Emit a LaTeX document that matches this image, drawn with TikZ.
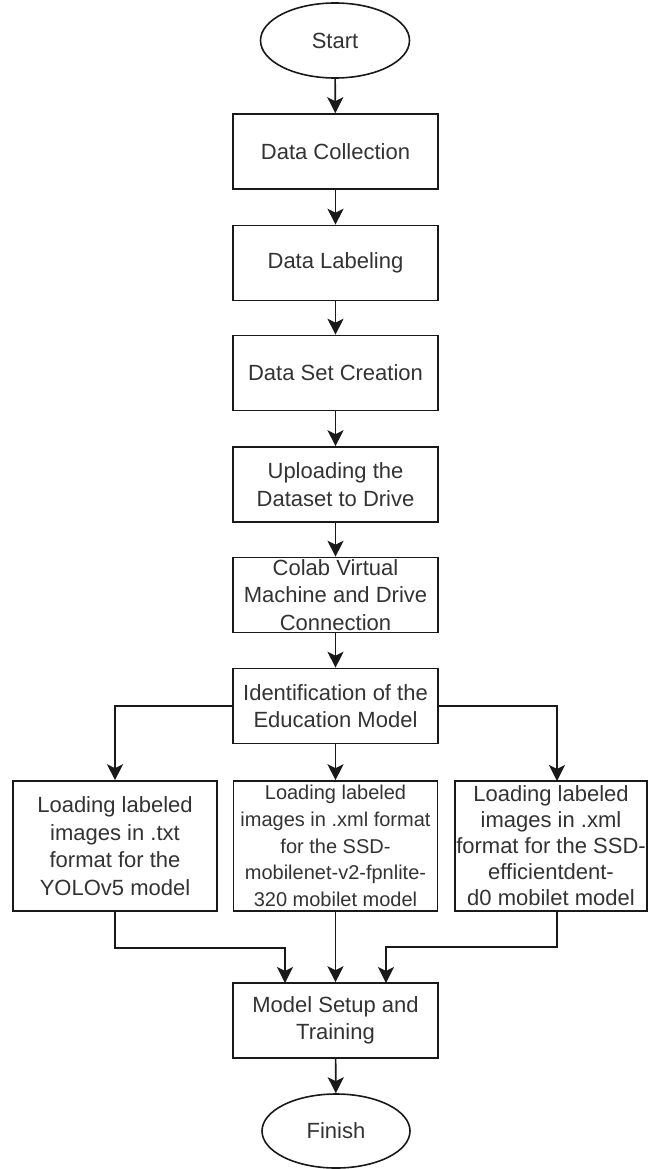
\documentclass[tikz,border=0pt]{standalone}
\usepackage{fontspec}
\setmainfont{Liberation Sans}
\usetikzlibrary{arrows.meta,shapes.geometric}
\begin{document}
\begin{tikzpicture}[x=1pt,y=-1pt,
  box/.style={draw=black!90,line width=1.6pt,rectangle,inner sep=0pt,fill=white},
  oval/.style={draw=black!90,line width=1.6pt,ellipse,inner sep=0pt,minimum width=149pt,minimum height=75pt},
  txt/.style={align=center,text=black!80,font=\fontsize{22}{27.5}\selectfont,inner sep=0pt},
  smalltxt/.style={align=center,text=black!80,font=\fontsize{20}{26.7}\selectfont,inner sep=0pt},
  conn/.style={line width=1.6pt,draw=black!90,-{Stealth[length=16pt,width=16pt,inset=4pt]}}]
\useasboundingbox[fill=white] (0,0) rectangle (648,1169);
% Start
\node[oval] (start) at (335,40.5) {};
\node[txt] at (start) {Start};
% main boxes
\node[box,minimum width=205pt,minimum height=75pt] (collect) at (335.5,151.5) {};
\node[txt] at (collect) {Data Collection};
\node[box,minimum width=205pt,minimum height=75pt] (label) at (335.5,263) {};
\node[txt] at (label) {Data Labeling};
\node[box,minimum width=205pt,minimum height=75pt] (dataset) at (335.5,373) {};
\node[txt] at (dataset) {Data Set Creation};
\node[box,minimum width=205pt,minimum height=75pt] (upload) at (335.5,484.5) {};
\node[txt] at (upload) {Uploading the\\Dataset to Drive};
\node[box,minimum width=205pt,minimum height=75pt] (colab) at (335.5,595) {};
\node[txt] at (colab) {Colab Virtual\\Machine and Drive\\Connection};
\node[box,minimum width=205pt,minimum height=75pt] (ident) at (335.5,706) {};
\node[txt] at (ident) {Identification of the\\Education Model};
% three branches
\node[box,minimum width=204pt,minimum height=130pt] (yolo) at (115,846) {};
\node[txt] at (yolo) {Loading labeled\\images in .txt\\format for the\\YOLOv5 model};
\node[box,minimum width=204pt,minimum height=130pt] (ssd) at (335.5,846) {};
\node[smalltxt] at (ssd) {Loading labeled\\images in .xml format\\for the SSD-\\mobilenet-v2-fpnlite-\\320 mobilet model};
\node[box,minimum width=192pt,minimum height=130pt] (eff) at (551,846) {};
\node[txt,font=\fontsize{22}{26}\selectfont] at (eff) {Loading labeled\\images in .xml\\format for the SSD-\\efficientdent-\\d0 mobilet model};
% model setup
\node[box,minimum width=205pt,minimum height=75pt] (setup) at (335.5,1020.5) {};
\node[txt] at (setup) {Model Setup and\\Training};
% Finish
\node[oval,minimum width=148pt,minimum height=74pt] (finish) at (336,1131) {};
\node[txt] at (finish) {Finish};
% connectors
\coordinate (effin) at (557,781);
\coordinate (effout) at (557,911);
\coordinate (setin1) at (285,983);
\coordinate (setin3) at (386,983);
\draw[conn] (start) -- (collect);
\draw[conn] (collect) -- (label);
\draw[conn] (label) -- (dataset);
\draw[conn] (dataset) -- (upload);
\draw[conn] (upload) -- (colab);
\draw[conn] (colab) -- (ident);
\draw[conn] (ident.west) -| (yolo.north);
\draw[conn] (ident) -- (ssd);
\draw[conn] (ident.east) -| (effin);
\draw[conn] (yolo.south) -- ++(0,36) -| (setin1);
\draw[conn] (ssd) -- (setup);
\draw[conn] (effout) -- ++(0,36) -| (setin3);
\draw[conn] (setup) -- (finish);
\end{tikzpicture}
\end{document}
